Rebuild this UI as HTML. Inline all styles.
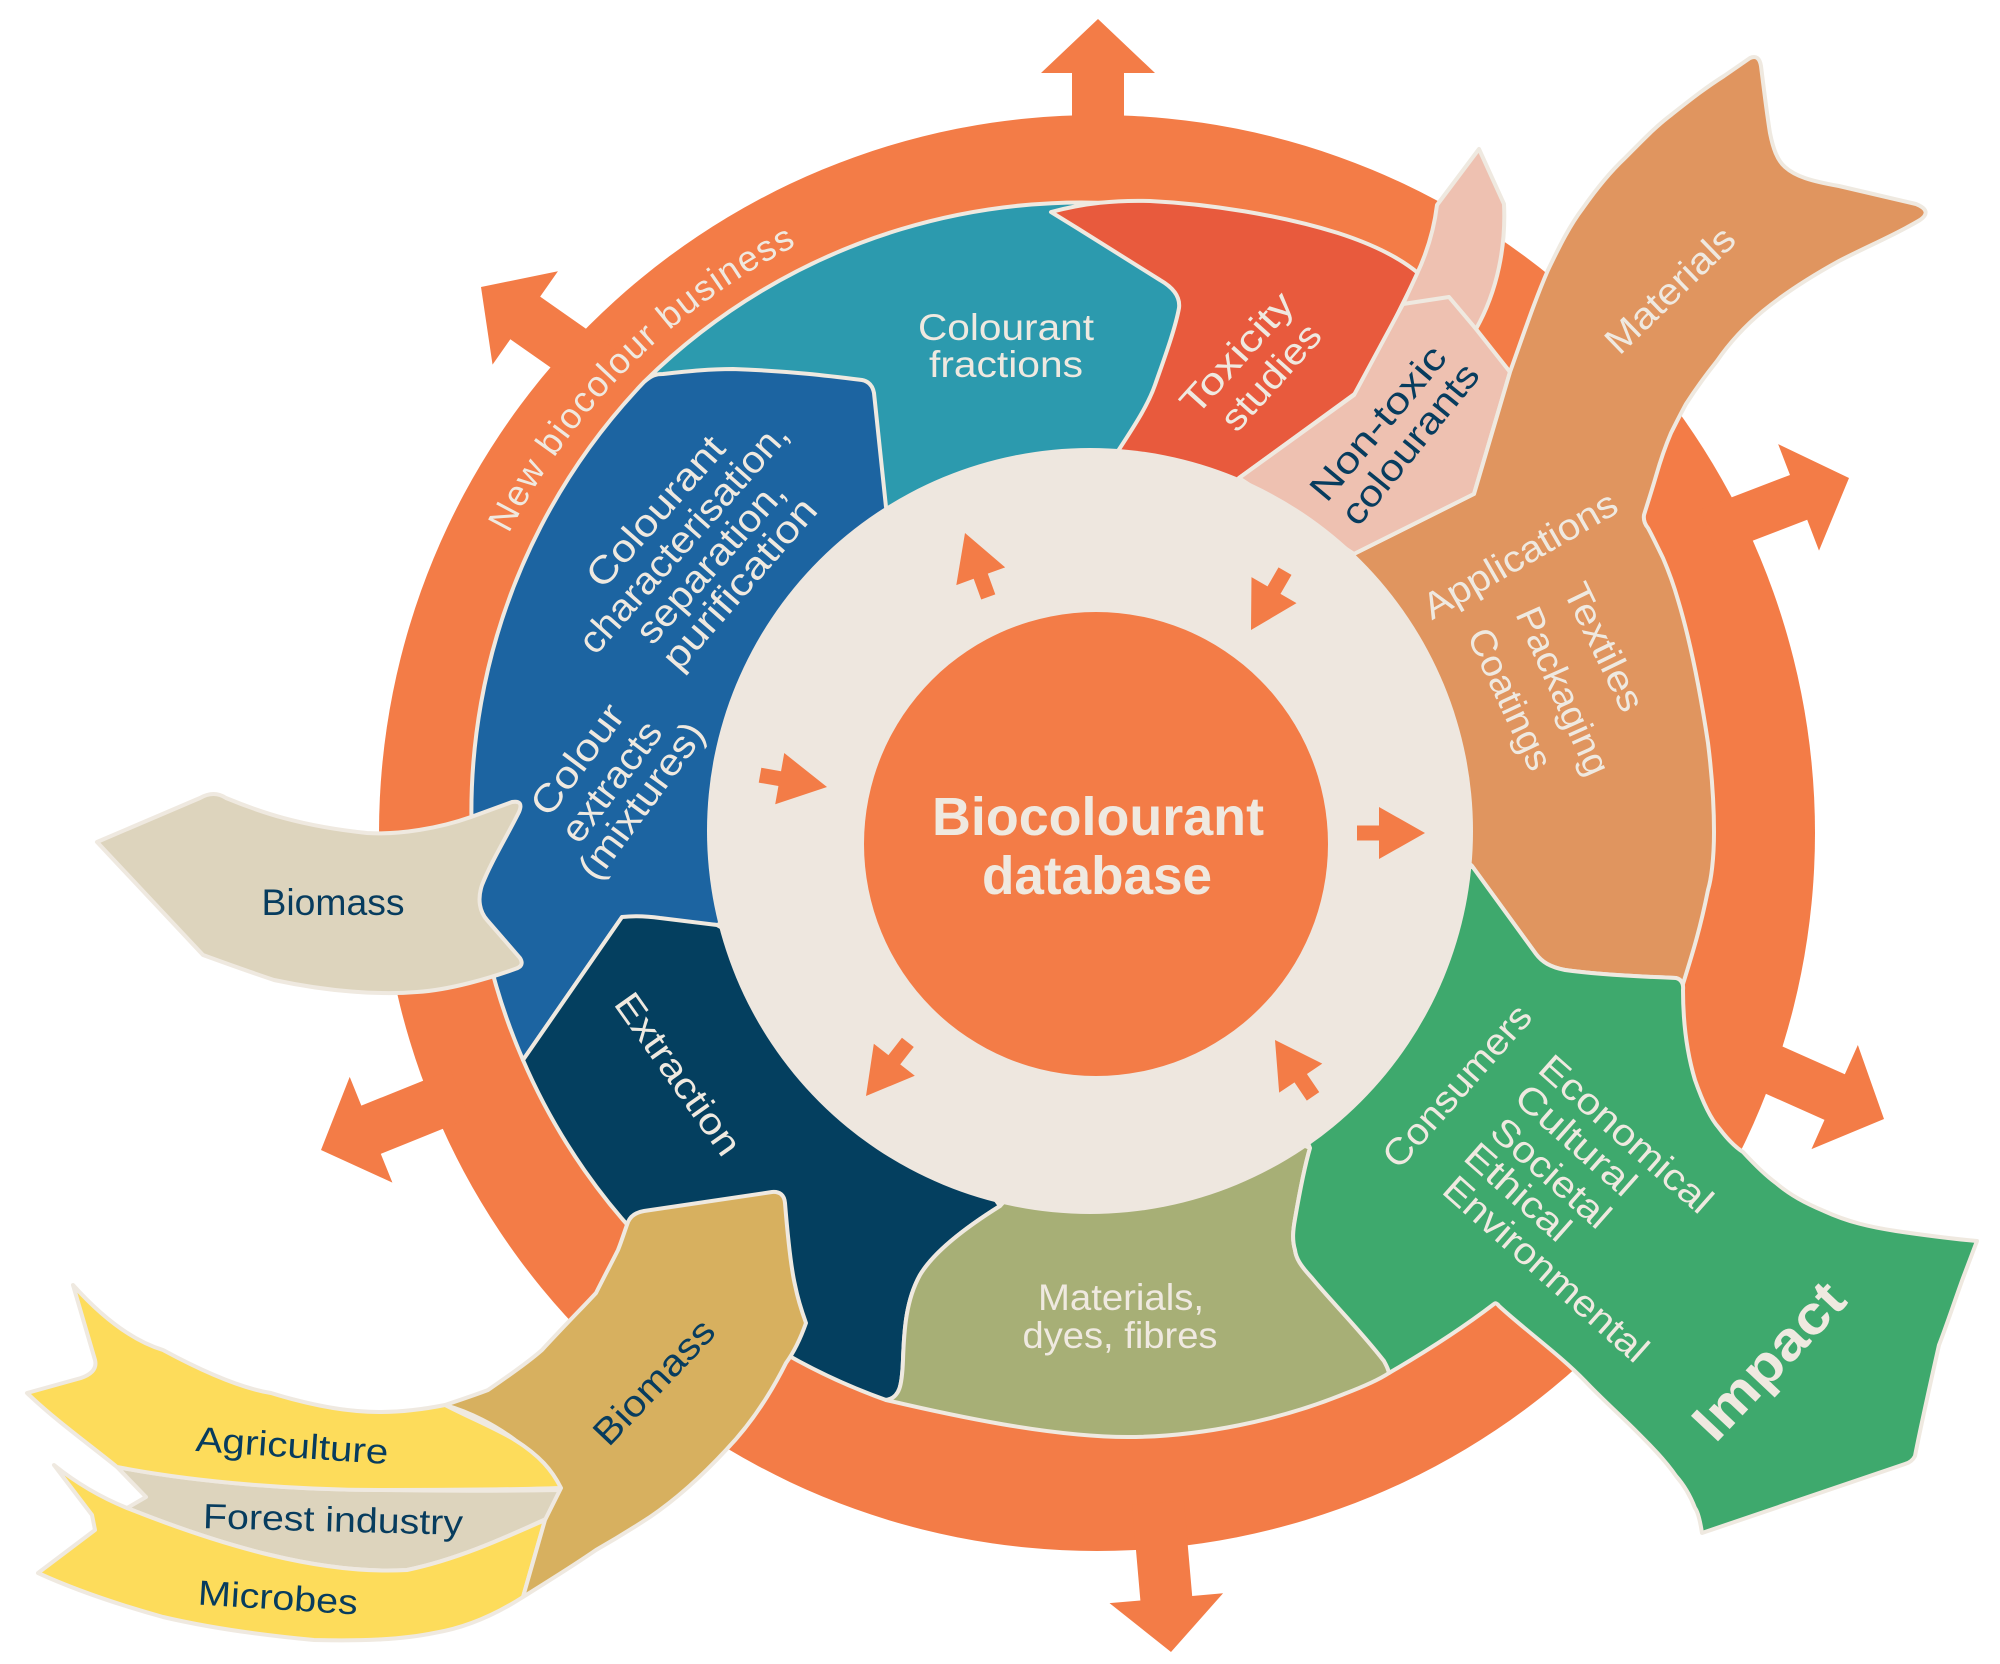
<!DOCTYPE html>
<html>
<head>
<meta charset="utf-8">
<style>
html,body{margin:0;padding:0;background:#ffffff;}
svg{display:block;}
text{font-family:"Liberation Sans",sans-serif;}
</style>
</head>
<body>
<svg width="2000" height="1664" viewBox="0 0 2000 1664" xmlns="http://www.w3.org/2000/svg">
<defs>
  <path id="arcNB" d="M 459.5,662.2 A 660 660 0 0 1 926.2,195.5"/>
</defs>
<rect x="0" y="0" width="2000" height="1664" fill="#ffffff"/>

<!-- outer orange ring (disc) -->
<circle cx="1097" cy="833" r="718" fill="#F37C47"/>

<!-- ring arrows -->
<g fill="#F37C47">
  <polygon points="0,0 -54,-57 -54,-26 -150,-26 -150,26 -54,26 -54,57" transform="translate(1098,19) rotate(-90)"/>
  <polygon points="0,0 -54,-57 -54,-26 -150,-26 -150,26 -54,26 -54,57" transform="translate(481,287) rotate(-145)"/>
  <polygon points="0,0 -54,-57 -54,-26 -150,-26 -150,26 -54,26 -54,57" transform="translate(321,1150) rotate(158)"/>
  <polygon points="0,0 -54,-57 -54,-26 -150,-26 -150,26 -54,26 -54,57" transform="translate(1171,1652) rotate(85)"/>
  <polygon points="0,0 -54,-57 -54,-25 -150,-25 -150,25 -54,25 -54,57" transform="translate(1884,1119) rotate(24)"/>
  <polygon points="0,0 -54,-57 -54,-24 -150,-24 -150,24 -54,24 -54,57" transform="translate(1849,478) rotate(-21)"/>
</g>

<g stroke="#EFE9E0" stroke-width="4" stroke-linejoin="round">
  <!-- teal -->
  <path fill="#2C9AAE" d="M 644,382 A 622 622 0 0 1 1200,214 L 1200,560 L 800,560 L 700,420 Z"/>
  <!-- red -->
  <path fill="#E85A3D" d="M 1051,212 C 1085,203 1115,200 1150,201 C 1210,204 1280,215 1338,233 C 1372,244 1400,258 1418,273 L 1402,305 L 1360,390 L 1239,478 L 1150,600 L 1118,451 C 1135,425 1148,405 1155,385 C 1163,362 1175,330 1179,308 Q 1181,292 1160,280 L 1077,228 Z"/>
  <!-- blue -->
  <path fill="#1C64A1" d="M 644,382 C 652,375 656,374 663,374 C 690,371 710,369 733,369 C 790,371 830,376 862,380 Q 872,382 874,393 L 886,507 L 1000,700 L 780,900 L 717,925 L 622,917 L 523,1060 A 622 622 0 0 1 644,382 Z"/>
  <!-- navy -->
  <path fill="#043F5F" d="M 622,917 Q 640,915 660,918 L 717,925 L 850,1000 L 1000,1206 C 968,1226 935,1250 920,1275 C 906,1300 904,1330 903,1360 C 902,1385 900,1398 886,1400 A 622 622 0 0 1 523,1060 Z"/>
  <!-- pink -->
  <path fill="#EEC1B1" d="M 1403,304 L 1416,276 C 1426,255 1434,230 1437,205 L 1479,149 L 1504,204 C 1506,245 1498,290 1476,329 L 1510,372 L 1474,494 L 1354,554 L 1239,478 L 1354,395 Z"/>
  <path fill="none" d="M 1403,304 L 1449,297 L 1476,329"/>
  <!-- tan materials / applications -->
  <path fill="#E0955F" d="M 1354,554 L 1474,494 L 1510,372 C 1525,330 1535,300 1548,270 C 1560,245 1570,225 1583,208 C 1597,188 1610,172 1625,158 C 1640,143 1655,127 1671,115 C 1690,100 1705,88 1724,76 L 1750,58 Q 1759,54 1761,66 C 1764,90 1767,115 1770,133 C 1773,148 1777,160 1785,167 C 1795,176 1810,181 1839,186 L 1916,204 Q 1933,211 1920,220 C 1895,235 1870,245 1839,261 C 1810,277 1785,293 1763,311 C 1745,326 1730,342 1717,361 C 1705,376 1695,390 1686,404 C 1680,415 1675,425 1671,433 C 1665,447 1660,462 1656,476 C 1652,490 1647,505 1644,515 Q 1643,522 1648,528 C 1653,537 1658,548 1663,558 C 1669,572 1674,586 1678,600 C 1690,640 1700,690 1708,743 C 1712,775 1714,805 1714,832 C 1714,860 1711,880 1708,890 C 1700,930 1692,955 1683,984 L 1676,978 C 1650,977 1600,975 1565,970 C 1550,967 1542,962 1536,954 L 1472,866 L 1300,700 Z"/>
  <!-- sage -->
  <path fill="#A7AF76" d="M 1000,1206 C 968,1226 935,1250 920,1275 C 906,1300 904,1330 903,1360 C 902,1385 900,1398 886,1400 C 950,1415 1050,1437 1128,1437 C 1200,1437 1280,1420 1344,1394 C 1365,1386 1380,1379 1389,1373 C 1388,1368 1386,1365 1384,1361 C 1360,1330 1330,1300 1312,1278 C 1300,1265 1296,1258 1295,1250 C 1292,1240 1293,1230 1295,1219 C 1300,1190 1305,1165 1310,1148 L 1200,1100 L 1050,1150 Z"/>
  <!-- green impact -->
  <path fill="#3EA96D" d="M 1472,866 L 1536,954 C 1542,962 1550,967 1565,970 C 1600,975 1650,977 1676,978 Q 1684,980 1683,990 C 1683,1020 1686,1050 1695,1080 C 1702,1100 1710,1118 1719,1128 C 1728,1140 1735,1147 1743,1152 C 1755,1165 1765,1175 1776,1183 C 1790,1195 1805,1203 1824,1211 C 1848,1222 1870,1227 1896,1231 C 1930,1236 1955,1239 1977,1241 L 1963,1278 C 1955,1300 1945,1330 1939,1345 C 1930,1385 1920,1430 1915,1456 Q 1912,1462 1905,1464 L 1702,1533 C 1700,1520 1698,1512 1695,1508 C 1690,1495 1684,1485 1676,1476 C 1665,1460 1650,1445 1637,1432 C 1620,1415 1600,1397 1585,1381 C 1560,1355 1525,1330 1499,1306 Q 1496,1302 1494,1304 C 1460,1330 1420,1355 1389,1373 C 1388,1368 1386,1365 1384,1361 C 1360,1330 1330,1300 1312,1278 C 1300,1265 1296,1258 1295,1250 C 1292,1240 1293,1230 1295,1219 C 1300,1190 1305,1165 1310,1148 L 1250,1000 Z"/>
</g>

<!-- beige ring and core -->
<circle cx="1090" cy="831" r="383" fill="#EEE7DF"/>
<circle cx="1096" cy="844" r="232" fill="#F37C47"/>

<!-- small inner arrows -->
<g fill="#F37C47">
  <polygon points="0,0 -46,-26 -46,-7.5 -68,-7.5 -68,7.5 -46,7.5 -46,26" transform="translate(965,533) rotate(-110)"/>
  <polygon points="0,0 -46,-26 -46,-7.5 -68,-7.5 -68,7.5 -46,7.5 -46,26" transform="translate(1251,630) rotate(120)"/>
  <polygon points="0,0 -46,-26 -46,-7.5 -68,-7.5 -68,7.5 -46,7.5 -46,26" transform="translate(1425,833) rotate(0)"/>
  <polygon points="0,0 -46,-26 -46,-7.5 -68,-7.5 -68,7.5 -46,7.5 -46,26" transform="translate(1275,1040) rotate(-124)"/>
  <polygon points="0,0 -46,-26 -46,-7.5 -68,-7.5 -68,7.5 -46,7.5 -46,26" transform="translate(866,1096) rotate(128)"/>
  <polygon points="0,0 -48,-26 -48,-7.5 -68,-7.5 -68,7.5 -48,7.5 -48,26" transform="translate(827,787) rotate(10)"/>
</g>

<g stroke="#EFE9E0" stroke-width="4" stroke-linejoin="round">
  <!-- left biomass -->
  <path fill="#DDD4BD" d="M 97,842 L 200,798 Q 214,790 226,798 C 260,812 300,826 367,833 C 400,835 440,828 471,817 L 512,802 Q 524,800 519,812 C 505,840 492,860 482,885 C 477,900 480,912 487,920 L 520,958 Q 525,966 515,969 C 490,978 450,990 417,992 C 380,995 330,992 274,980 C 250,972 225,963 203,955 Z"/>
  <!-- forest industry -->
  <path fill="#DDD4BD" d="M 117,1467 C 200,1483 300,1490 379,1490 C 440,1491 500,1491 560,1490 L 546,1519 C 500,1540 455,1560 407,1570 C 320,1575 220,1545 127,1508 L 146,1497 Z"/>
  <!-- agriculture -->
  <path fill="#FDDC5B" d="M 73,1285 C 100,1315 130,1340 163,1350 C 200,1370 240,1388 271,1393 C 310,1405 345,1412 379,1412 C 405,1412 425,1409 445,1405 C 470,1418 495,1428 515,1440 C 535,1452 550,1465 558,1473 Q 564,1482 561,1488 C 500,1490 440,1490 379,1490 C 300,1490 200,1483 117,1467 C 90,1445 55,1420 27,1393 L 81,1378 Q 98,1372 95,1360 Z"/>
  <!-- microbes -->
  <path fill="#FDDC5B" d="M 54,1465 C 75,1482 100,1497 127,1508 C 220,1545 320,1575 407,1570 C 455,1560 500,1540 545,1520 L 523,1597 C 495,1615 465,1628 434,1633 C 400,1640 360,1641 314,1640 C 260,1635 210,1628 163,1617 C 120,1605 75,1590 38,1573 L 95,1530 L 92,1515 Z"/>
  <!-- gold biomass -->
  <path fill="#D7B05F" d="M 644,1211 L 772,1192 Q 784,1191 785,1203 C 788,1240 792,1272 795,1285 C 798,1300 802,1312 806,1323 C 800,1340 794,1352 786,1363 C 770,1395 750,1425 726,1450 C 700,1478 675,1500 650,1517 C 630,1530 610,1542 596,1550 C 570,1568 545,1583 523,1597 L 545,1520 L 561,1488 C 552,1470 540,1456 515,1440 C 495,1425 470,1412 445,1405 C 460,1400 475,1395 488,1390 C 505,1378 525,1365 542,1350 C 565,1325 585,1305 596,1293 C 605,1275 612,1262 618,1250 C 622,1240 625,1230 628,1222 Q 632,1213 644,1211 Z"/>
</g>

<!-- TEXT -->
<g fill="#EFE9E0">
  <text font-size="36" letter-spacing="1.6"><textPath href="#arcNB" startOffset="50%" text-anchor="middle">New biocolour business</textPath></text>

  <text x="1006" y="340" text-anchor="middle" font-size="37" textLength="176" lengthAdjust="spacingAndGlyphs">Colourant</text>
  <text x="1006" y="377" text-anchor="middle" font-size="37" textLength="154" lengthAdjust="spacingAndGlyphs">fractions</text>

  <text transform="translate(1237,353) rotate(-48)" text-anchor="middle" dominant-baseline="central" font-size="37" textLength="150" lengthAdjust="spacingAndGlyphs">Toxicity</text>
  <text transform="translate(1271,377) rotate(-48)" text-anchor="middle" dominant-baseline="central" font-size="37" textLength="130" lengthAdjust="spacingAndGlyphs">studies</text>

  <text transform="translate(1670,290) rotate(-44)" text-anchor="middle" dominant-baseline="central" font-size="37" textLength="165" lengthAdjust="spacingAndGlyphs">Materials</text>
  <text transform="translate(1520,555) rotate(-30)" text-anchor="middle" dominant-baseline="central" font-size="37" textLength="218" lengthAdjust="spacingAndGlyphs">Applications</text>

  <text transform="translate(1604,647) rotate(64)" text-anchor="middle" dominant-baseline="central" font-size="37" textLength="138" lengthAdjust="spacingAndGlyphs">Textiles</text>
  <text transform="translate(1563,691) rotate(66)" text-anchor="middle" dominant-baseline="central" font-size="37" textLength="180" lengthAdjust="spacingAndGlyphs">Packaging</text>
  <text transform="translate(1510,699) rotate(65)" text-anchor="middle" dominant-baseline="central" font-size="37" textLength="152" lengthAdjust="spacingAndGlyphs">Coatings</text>

  <text transform="translate(1457,1086) rotate(-48.5)" text-anchor="middle" dominant-baseline="central" font-size="37" textLength="204" lengthAdjust="spacingAndGlyphs">Consumers</text>
  <text transform="translate(1626,1134) rotate(41.5)" text-anchor="middle" dominant-baseline="central" font-size="37" textLength="218" lengthAdjust="spacingAndGlyphs">Economical</text>
  <text transform="translate(1576,1140) rotate(41.5)" text-anchor="middle" dominant-baseline="central" font-size="37" textLength="148" lengthAdjust="spacingAndGlyphs">Cultural</text>
  <text transform="translate(1551,1173) rotate(41.5)" text-anchor="middle" dominant-baseline="central" font-size="37" textLength="146" lengthAdjust="spacingAndGlyphs">Societal</text>
  <text transform="translate(1518,1192) rotate(41.5)" text-anchor="middle" dominant-baseline="central" font-size="37" textLength="128" lengthAdjust="spacingAndGlyphs">Ethical</text>
  <text transform="translate(1546,1269) rotate(41.5)" text-anchor="middle" dominant-baseline="central" font-size="37" textLength="260" lengthAdjust="spacingAndGlyphs">Environmental</text>

  <text transform="translate(1769,1361) rotate(-46.7)" text-anchor="middle" dominant-baseline="central" font-size="54" font-weight="bold" textLength="195" lengthAdjust="spacingAndGlyphs">Impact</text>

  <text x="1121" y="1310" text-anchor="middle" font-size="37" textLength="166" lengthAdjust="spacingAndGlyphs">Materials,</text>
  <text x="1120" y="1348" text-anchor="middle" font-size="37" textLength="195" lengthAdjust="spacingAndGlyphs">dyes, fibres</text>

  <text transform="translate(678,1074) rotate(54.7)" text-anchor="middle" dominant-baseline="central" font-size="37" textLength="190" lengthAdjust="spacingAndGlyphs">Extraction</text>

  <text transform="translate(656,512) rotate(-48.5)" text-anchor="middle" dominant-baseline="central" font-size="38" textLength="188" lengthAdjust="spacingAndGlyphs">Colourant</text>
  <text transform="translate(684,538) rotate(-48.5)" text-anchor="middle" dominant-baseline="central" font-size="38" textLength="295" lengthAdjust="spacingAndGlyphs">characterisation,</text>
  <text transform="translate(711,562) rotate(-48.5)" text-anchor="middle" dominant-baseline="central" font-size="38" textLength="204" lengthAdjust="spacingAndGlyphs">separation,</text>
  <text transform="translate(740,584) rotate(-49)" text-anchor="middle" dominant-baseline="central" font-size="38" textLength="214" lengthAdjust="spacingAndGlyphs">purification</text>

  <text transform="translate(578,760) rotate(-53)" text-anchor="middle" dominant-baseline="central" font-size="38" textLength="129" lengthAdjust="spacingAndGlyphs">Colour</text>
  <text transform="translate(612,782) rotate(-53)" text-anchor="middle" dominant-baseline="central" font-size="38" textLength="141" lengthAdjust="spacingAndGlyphs">extracts</text>
  <text transform="translate(642,801) rotate(-53.5)" text-anchor="middle" dominant-baseline="central" font-size="38" textLength="185" lengthAdjust="spacingAndGlyphs">(mixtures)</text>

  <text x="1098" y="835" text-anchor="middle" font-size="54" font-weight="bold" textLength="332" lengthAdjust="spacingAndGlyphs">Biocolourant</text>
  <text x="1097" y="894" text-anchor="middle" font-size="54" font-weight="bold" textLength="230" lengthAdjust="spacingAndGlyphs">database</text>
</g>

<g fill="#073C5E">
  <text transform="translate(1378,423) rotate(-50)" text-anchor="middle" dominant-baseline="central" font-size="37" textLength="190" lengthAdjust="spacingAndGlyphs">Non-toxic</text>
  <text transform="translate(1410,444) rotate(-51)" text-anchor="middle" dominant-baseline="central" font-size="37" textLength="196" lengthAdjust="spacingAndGlyphs">colourants</text>

  <text x="333" y="915" text-anchor="middle" font-size="37" textLength="143" lengthAdjust="spacingAndGlyphs">Biomass</text>
  <text transform="translate(654,1382) rotate(-46.5)" text-anchor="middle" dominant-baseline="central" font-size="37" textLength="158" lengthAdjust="spacingAndGlyphs">Biomass</text>

  <text transform="translate(292,1446) rotate(3.9)" text-anchor="middle" dominant-baseline="central" font-size="35" textLength="193" lengthAdjust="spacingAndGlyphs">Agriculture</text>
  <text transform="translate(333,1520) rotate(1.5)" text-anchor="middle" dominant-baseline="central" font-size="35" textLength="260" lengthAdjust="spacingAndGlyphs">Forest industry</text>
  <text transform="translate(278,1598) rotate(3.6)" text-anchor="middle" dominant-baseline="central" font-size="35" textLength="160" lengthAdjust="spacingAndGlyphs">Microbes</text>
</g>
</svg>
</body>
</html>
